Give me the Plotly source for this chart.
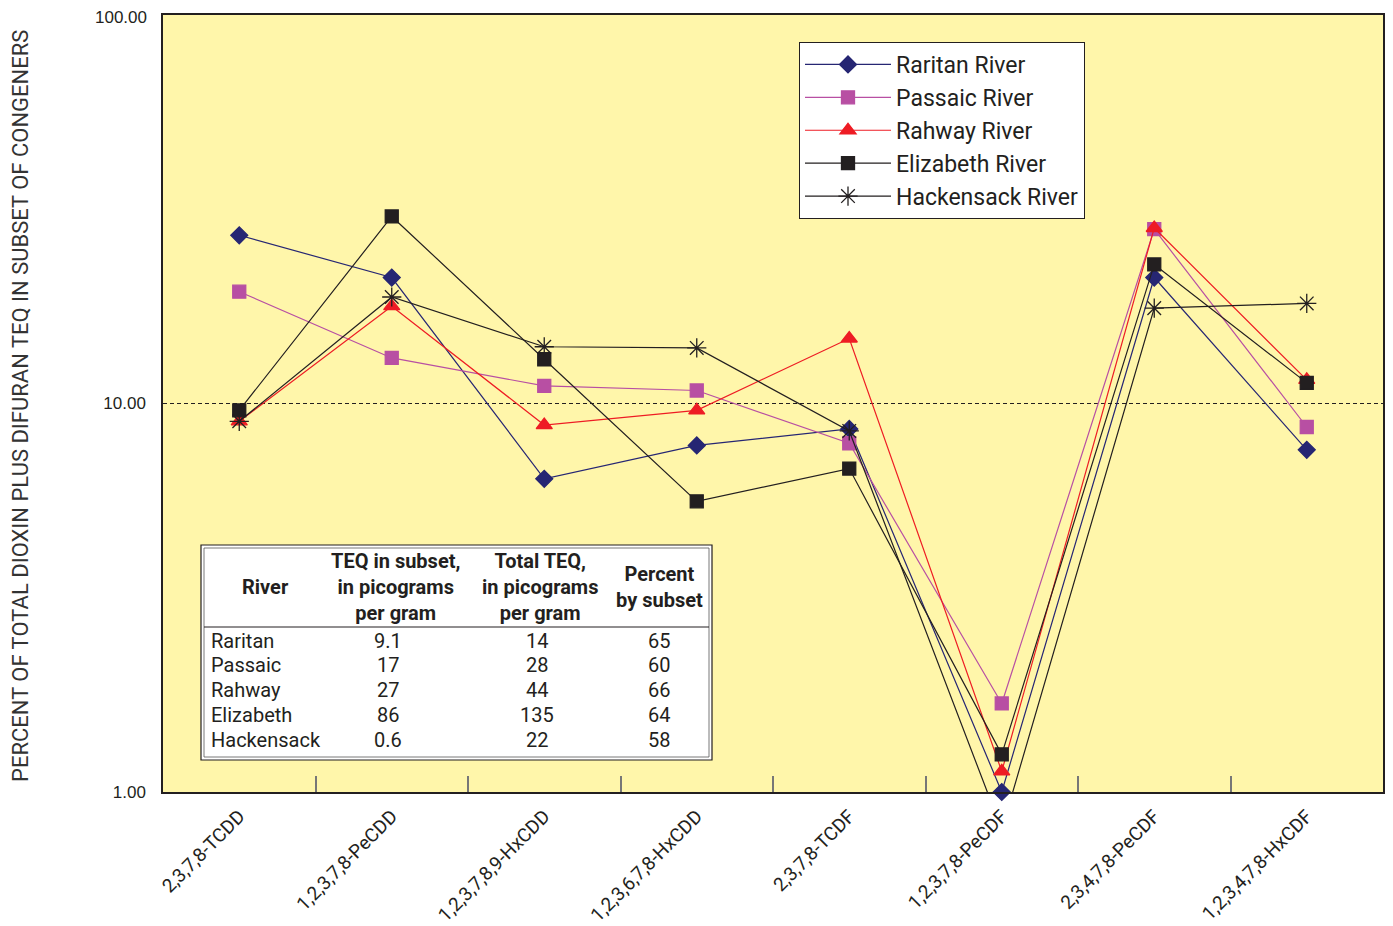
import plotly.graph_objects as go

congeners = ["2,3,7,8-TCDD", "1,2,3,7,8-PeCDD", "1,2,3,7,8,9-HxCDD", "1,2,3,6,7,8-HxCDD",
             "2,3,7,8-TCDF", "1,2,3,7,8-PeCDF", "2,3,4,7,8-PeCDF", "1,2,3,4,7,8-HxCDF"]

raritan = [27.1, 21.1, 6.4, 7.8, 8.6, 1.0, 21.1, 7.6]
passaic = [19.4, 13.1, 11.1, 10.8, 7.9, 1.69, 28.1, 8.7]
rahway = [9.0, 17.8, 8.8, 9.6, 14.7, 1.13, 28.3, 11.5]
elizabeth = [9.6, 30.3, 13.0, 5.6, 6.8, 1.25, 22.8, 11.3]
hackensack = [9.0, 18.8, 14.0, 13.9, 8.5, 0.8, 17.6, 18.1]

y_tickvals = [1, 10, 100]
y_ticktext = ["1.00", "10.00", "100.00"]

table_rivers = ["Raritan", "Passaic", "Rahway", "Elizabeth", "Hackensack"]
teq_subset = ["9.1", "17", "27", "86", "0.6"]
total_teq = ["14", "28", "44", "135", "22"]
percent_subset = ["65", "60", "66", "64", "58"]
table_headers = ["River", "TEQ in subset,<br>in picograms<br>per gram",
                 "Total TEQ,<br>in picograms<br>per gram", "Percent<br>by subset"]

FONT = "Roboto, Liberation Sans, sans-serif"
TICKFONT = "Liberation Sans, Arial, sans-serif"
INK = "#231F20"

series = [
    ("Raritan River", raritan, "#262673", "diamond", 13, False),
    ("Passaic River", passaic, "#B84FA3", "square", 13, True),
    ("Rahway River", rahway, "#EE1C24", "triangle-up", 14, True),
    ("Elizabeth River", elizabeth, INK, "square", 13, True),
    ("Hackensack River", hackensack, INK, "asterisk-open", 16, True),
]

fig = go.Figure()
for name, vals, color, sym, size, clip in series:
    fig.add_trace(go.Scatter(
        x=congeners, y=vals, name=name, mode="lines+markers",
        line=dict(color=color, width=1.2),
        marker=dict(symbol=sym, size=size, color=color,
                    line=dict(color=color, width=1.3)),
        cliponaxis=clip,
    ))

# plot-area edges as seen on screen; the page body adds an 8px offset
OFF = 8
L, R, T, B = 163, 1383, 15, 792
W, H = R - L, B - T


def px(x):
    return (x - L) / W


def py(y):
    return (B - y) / H


annotations = []
hdr_x = [265, 395, 540, 659]
for hx, txt in zip(hdr_x, table_headers):
    annotations.append(dict(x=px(hx), y=py(587), xref="paper", yref="paper",
                            text="<b>" + txt + "</b>", showarrow=False,
                            xanchor="center", yanchor="middle",
                            font=dict(family=FONT, size=20, color=INK)))
row_y = [641, 665, 690, 715, 740]
for i, ry in enumerate(row_y):
    annotations.append(dict(x=px(209), y=py(ry), xref="paper", yref="paper",
                            text=table_rivers[i], showarrow=False,
                            xanchor="left", yanchor="middle",
                            font=dict(family=FONT, size=20, color=INK)))
    for cx, col in ((388, teq_subset), (537, total_teq), (659, percent_subset)):
        annotations.append(dict(x=px(cx), y=py(ry), xref="paper", yref="paper",
                                text=col[i], showarrow=False,
                                xanchor="center", yanchor="middle",
                                font=dict(family=FONT, size=20, color=INK)))

# y-axis title
annotations.append(dict(x=px(20), y=py(406), xref="paper", yref="paper",
                        text="PERCENT OF TOTAL DIOXIN PLUS DIFURAN TEQ IN SUBSET OF CONGENERS",
                        showarrow=False, textangle=-90, xanchor="center", yanchor="middle",
                        font=dict(family=FONT, size=22, color="#333")))
# top tick label, nudged just below the frame so it is not cut at the page edge
annotations.append(dict(x=px(149), y=py(18), xref="paper", yref="paper",
                        text=y_ticktext[-1], showarrow=False,
                        xanchor="right", yanchor="middle",
                        font=dict(family=TICKFONT, size=17, color=INK)))

shapes = [
    dict(type="rect", xref="paper", yref="paper", x0=px(201), x1=px(712),
         y0=py(760), y1=py(545), line=dict(color=INK, width=1.2),
         fillcolor="white", layer="below"),
    dict(type="rect", xref="paper", yref="paper", x0=px(204), x1=px(709),
         y0=py(757), y1=py(548), line=dict(color="#555", width=0.8)),
    dict(type="line", xref="paper", yref="paper", x0=px(204), x1=px(709),
         y0=py(627), y1=py(627), line=dict(color=INK, width=1)),
]

fig.update_layout(
    width=1393, height=926,
    margin=dict(l=L - OFF, r=1393 - R + OFF, t=T - OFF, b=926 - B + OFF),
    paper_bgcolor="white", plot_bgcolor="#FFF6AA",
    font=dict(family=FONT, color=INK),
    showlegend=True,
    legend=dict(x=px(799), y=py(42), xanchor="left", yanchor="top",
                bgcolor="white", bordercolor=INK, borderwidth=1,
                font=dict(family=FONT, size=23, color=INK),
                tracegroupgap=0, itemwidth=86),
    annotations=annotations,
    shapes=shapes,
)
fig.update_xaxes(
    type="category", range=[-0.5, 7.5], showgrid=False, automargin=False,
    showline=True, linecolor=INK, linewidth=1.5, mirror=True,
    ticks="inside", tickson="boundaries", ticklen=16, tickcolor="#777",
    tickwidth=1.5, tickangle=-45, ticklabelstandoff=4,
    tickfont=dict(family=FONT, size=19, color=INK),
)
fig.update_yaxes(
    type="log", range=[0, 2], tickvals=y_tickvals[:-1], automargin=False,
    ticktext=y_ticktext[:-1],
    showgrid=True, gridcolor=INK, griddash="4px,3px", gridwidth=1,
    showline=True, linecolor=INK, linewidth=1.5, mirror=True,
    ticks="", zeroline=False, ticklabelstandoff=12,
    tickfont=dict(family=TICKFONT, size=17, color=INK),
)

fig.write_html("out.html")
